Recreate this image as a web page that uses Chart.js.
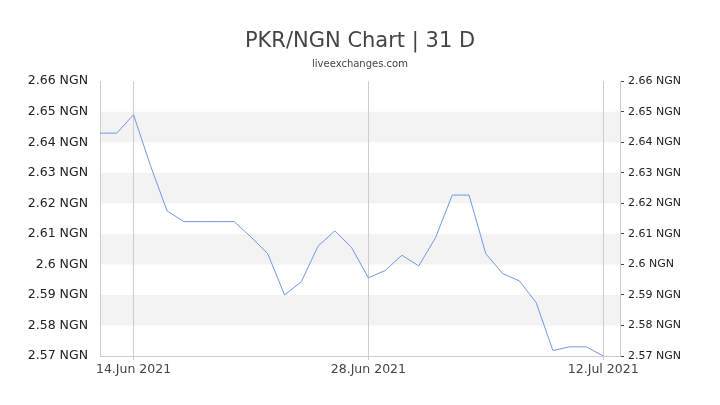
<!DOCTYPE html>
<html><head><meta charset="utf-8">
<script src="https://cdn.jsdelivr.net/npm/chart.js@4"></script>
<style>body{margin:0;background:#fff}#wrap{width:720px;height:405px}</style>
</head><body><div id="wrap"><canvas id="c"></canvas></div>
<script>
const dayIndex = [0,1,2,3,4,5,6,7,8,9,10,11,12,13,14,15,16,17,18,19,20,21,22,23,24,25,26,27,28,29,30];
const rates = [2.643,2.643,2.649,2.6325,2.6175,2.614,2.614,2.614,2.614,2.609,2.6035,2.590,2.5943,2.606,2.611,2.6055,2.5956,2.598,2.603,2.5995,2.6087,2.6227,2.6227,2.6035,2.597,2.5946,2.5875,2.5718,2.573,2.573,2.570];
const xTickPos = [2,16,30];
const xTickLabels = ['14.Jun 2021','28.Jun 2021','12.Jul 2021'];
const bands = [[2.64,2.65],[2.62,2.63],[2.60,2.61],[2.58,2.59]];

const bandPlugin = {
  id:'bands',
  beforeDraw(chart){
    const {ctx, chartArea:a, scales:{y}} = chart;
    ctx.save(); ctx.fillStyle='#f3f3f3';
    bands.forEach(([lo,hi])=>{
      const t=y.getPixelForValue(hi), b=y.getPixelForValue(lo);
      ctx.fillRect(a.left,t,a.right-a.left,b-t);
    });
    ctx.restore();
  }
};
const fmt = v => (Math.round(v*100)/100).toString()+' NGN';
const font = {family:'DejaVu Sans', size:12.5};

new Chart(document.getElementById('c'), {
  type:'line',
  data:{datasets:[{
    data: dayIndex.map((d,i)=>({x:d,y:rates[i]})),
    borderColor:'#6f98e8', borderWidth:1, pointRadius:0, tension:0
  }]},
  options:{
    responsive:true, maintainAspectRatio:false, animation:false,
    layout:{padding:{top:0,bottom:26}},
    plugins:{
      legend:{display:false},
      title:{display:true,text:'PKR/NGN Chart | 31 D',color:'#444',font:{family:'DejaVu Sans',size:21,weight:'normal'},padding:{top:29,bottom:4}},
      subtitle:{display:true,text:'liveexchanges.com',color:'#444',font:{family:'DejaVu Sans',size:10},padding:{bottom:11}},
      tooltip:{enabled:false}
    },
    scales:{
      x:{type:'linear',min:0,max:31,
        afterBuildTicks(ax){ax.ticks=xTickPos.map(v=>({value:v}));},
        ticks:{callback:(v)=>xTickLabels[xTickPos.indexOf(v)],color:'#444',font,maxRotation:0,padding:2},
        grid:{color:'#ccc',drawTicks:true,tickLength:4},
        border:{color:'#ccc'}},
      y:{min:2.57,max:2.66,position:'left',
        afterFit(ax){ax.width=100;},
        afterBuildTicks(ax){ax.ticks=[];for(let i=0;i<=9;i++)ax.ticks.push({value:2.57+i*0.01});},
        ticks:{callback:fmt,color:'#222',font,padding:4},
        grid:{display:false},border:{color:'#ccc'}},
      y2:{min:2.57,max:2.66,position:'right',
        afterFit(ax){ax.width=100;},
        afterBuildTicks(ax){ax.ticks=[];for(let i=0;i<=18;i++)ax.ticks.push({value:2.57+i*0.005});},
        ticks:{callback:(v,i)=>i%2?'':fmt(v),color:'#222',font:{family:'DejaVu Sans',size:11},padding:4},
        grid:{display:true,drawOnChartArea:false,color:'#444',tickLength:4},border:{color:'#ccc'}}
    }
  },
  plugins:[bandPlugin]
});
</script></body></html>
